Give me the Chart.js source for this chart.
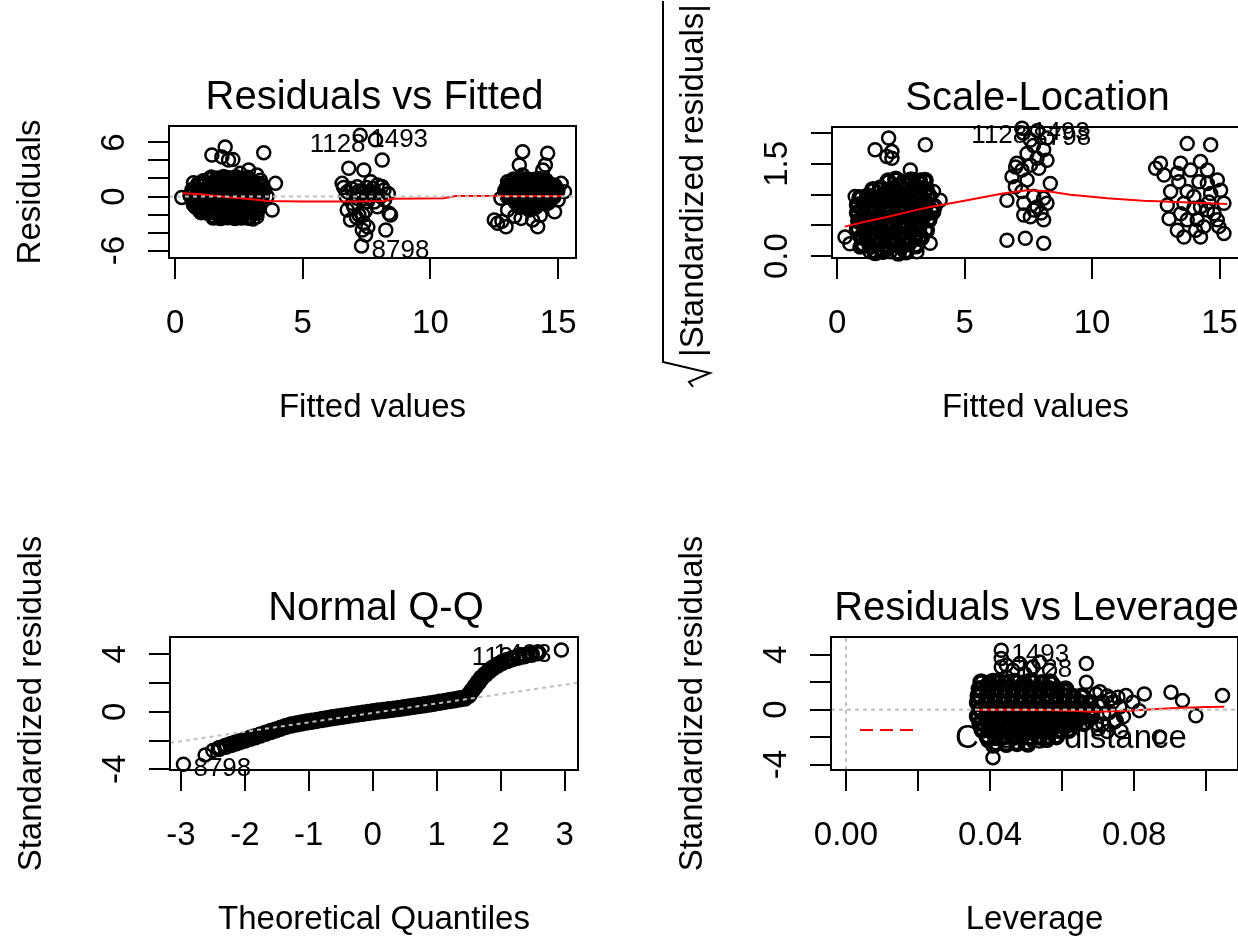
<!DOCTYPE html>
<html>
<head>
<meta charset="utf-8">
<title>lm diagnostics</title>
<script src="https://cdn.jsdelivr.net/npm/chart.js@4.4.1/dist/chart.umd.min.js"></script>
<style>
  html, body { margin: 0; padding: 0; background: #fff; }
  body { width: 1238px; height: 936px; overflow: hidden; position: relative; }
  canvas { position: absolute; }
</style>
</head>
<body>
<canvas id="rvf" width="620" height="468" style="left:0;top:0"></canvas>
<canvas id="sl" width="640" height="468" style="left:620px;top:0"></canvas>
<canvas id="qq" width="620" height="468" style="left:0;top:468px"></canvas>
<canvas id="rvl" width="640" height="468" style="left:620px;top:468px"></canvas>
<script>
// ---- Residuals vs Fitted ----
// scattered observations
const rvfFitted = [
  0.26,0.72,1.44,1.96,1.83,2.09,2.26,3.47,2.55,2.88,3.2,3.93,3.8,2.36,3.2,0.72,3.6,3.34,1.1,3.05,
  7.25,7.85,8.11,6.8,7.39,6.54,7.13,7.66,7.92,8.18,6.74,7.33,7.79,8.05,6.94,7.53,7.92,8.38,6.74,7.2,
  6.87,7.39,7.33,7.46,7.3,8.25,7.13,7.66,6.9,7.0,7.5,7.6,7.75,8.1,8.2,7.0,7.45,7.8,6.7,7.2,
  8.35,7.1,7.55,7.35,8.44,6.6,
  13.61,14.59,13.48,14.4,13.61,13.02,14.2,15.12,14.79,12.96,13.29,15.25,12.76,13.02,12.5,12.63,12.96,13.55,14.0,14.2,
  13.87,14.86,15.0,14.46,12.8,13.3,14.5,14.3
];
const rvfResid = [
  -0.1,1.54,4.6,5.5,4.4,4.06,4.1,4.87,2.57,2.94,2.4,1.46,-1.5,-2.43,-2.24,-0.94,0.0,1.8,1.75,-2.5,
  6.8,6.3,4.06,3.13,2.94,1.46,1.09,1.65,1.28,0.72,0.53,0.35,0.17,0.0,-0.76,-0.57,-1.13,-1.87,-1.5,-2.06,
  -2.6,-2.98,-3.72,-4.28,-5.5,-3.72,-0.2,0.53,0.9,0.2,1.0,-0.1,0.9,1.1,-0.4,-1.2,-1.6,-0.6,0.0,0.6,
  0.3,-2.3,-3.4,-2.0,-2.06,1.0,
  4.98,4.8,3.5,2.94,2.39,1.65,2.0,1.46,1.28,0.91,0.72,0.54,-0.2,-1.5,-2.6,-2.98,-3.35,-2.43,-2.6,-3.35,
  -1.5,-1.69,-0.39,-0.76,-2.75,-2.2,3.5,-2.1
];
// densely overplotted observations
const rvfFittedCore = [
  1.42,1.66,1.9,2.13,2.38,2.61,2.85,
  0.92,1.15,1.39,1.63,1.87,2.1,2.35,2.58,2.83,3.07,3.3,
  0.7,0.95,1.2,1.45,1.7,1.95,2.2,2.45,2.7,2.95,3.2,3.45,
  0.62,0.86,1.1,1.35,1.6,1.85,2.1,2.35,2.6,2.85,3.1,3.38,
  0.72,0.96,1.2,1.44,1.68,1.92,2.16,2.4,2.64,2.88,3.12,3.36,
  0.82,1.06,1.3,1.54,1.78,2.02,2.26,2.5,2.74,2.98,3.25,
  1.02,1.26,1.5,1.74,1.98,2.22,2.46,2.7,2.94,3.18,
  1.5,1.78,2.05,2.32,2.6,2.88,
  13.25,13.5,13.75,14.0,14.25,14.5,
  13.05,13.3,13.55,13.8,14.05,14.3,14.55,14.85,
  12.95,13.2,13.45,13.7,13.95,14.2,14.45,14.7,14.95,
  13.05,13.3,13.55,13.8,14.05,14.3,14.55,14.8,
  13.35,13.6,13.85,14.1,14.35,14.6,
  13.5,13.8,14.1
];
const rvfResidCore = [
  2.05,1.95,2.1,1.98,2.08,1.92,2.02,
  1.35,1.45,1.38,1.48,1.36,1.44,1.4,1.47,1.33,1.42,1.36,
  0.72,0.65,0.78,0.68,0.74,0.64,0.76,0.7,0.66,0.75,0.69,0.73,
  0.12,0.05,0.16,0.08,0.14,0.02,0.11,0.06,0.15,0.04,0.12,0.07,
  -0.48,-0.55,-0.45,-0.52,-0.46,-0.56,-0.49,-0.53,-0.44,-0.5,-0.55,-0.47,
  -1.08,-1.15,-1.05,-1.12,-1.06,-1.14,-1.09,-1.16,-1.04,-1.11,-1.07,
  -1.68,-1.74,-1.66,-1.72,-1.7,-1.76,-1.67,-1.73,-1.69,-1.75,
  -2.28,-2.33,-2.25,-2.31,-2.27,-2.3,
  1.82,1.75,1.85,1.78,1.84,1.76,
  1.22,1.15,1.25,1.18,1.24,1.16,1.21,1.14,
  0.62,0.55,0.65,0.58,0.63,0.56,0.64,0.57,0.61,
  0.02,-0.05,0.05,-0.03,0.04,-0.04,0.03,-0.02,
  -0.58,-0.64,-0.56,-0.62,-0.57,-0.63,
  -1.1,-1.05,-1.12
];
const rvfSmoothX = [0.3, 1.0, 2.0, 3.0, 3.6, 5.0, 7.0, 8.2, 8.5, 10.5, 11.0, 13.0, 15.2];
const rvfSmoothY = [0.35, 0.25, -0.05, -0.3, -0.5, -0.55, -0.55, -0.5, -0.25, -0.2, 0.05, 0.05, 0.05];
const rvfXTicks = [0, 5, 10, 15];
const rvfXLabels = ['0', '5', '10', '15'];
const rvfYTicks = [-6, -4, -2, 0, 2, 4, 6];
const rvfYLabels = ['-6', '', '', '0', '', '', '6'];

// ---- Scale-Location ----
const slFitted = [
  2.02,1.49,2.15,2.15,3.46,2.87,3.26,0.71,3.78,4.04,0.31,3.65,3.13,2.08,0.9,1.3,1.95,0.5,
  7.25,7.85,7.3,7.45,8.1,7.84,7.58,8.23,7.25,6.86,7.45,7.05,8.36,7.25,6.66,7.71,8.1,7.32,7.84,8.23,
  7.32,7.71,8.1,7.58,6.66,7.38,8.1,6.99,7.91,7.58,8.23,7.7,7.0,8.0,
  13.73,14.65,12.68,12.49,13.47,13.86,14.25,14.52,12.82,13.4,14.19,13.08,13.73,15.04,14.65,15.17,12.95,13.6,14.25,14.78,
  13.02,13.73,14.38,14.91,13.34,13.6,14.25,15.17,14.12,14.52,13.99,13.34,14.91,14.52,13.99,13.47,14.58,14.97,14.06
];
const slSqrtStd = [
  1.92,1.73,1.70,1.59,1.81,1.40,1.24,0.97,1.05,0.91,0.31,0.21,0.07,0.07,0.15,0.07,1.62,0.2,
  2.08,2.04,2.0,1.67,1.73,1.59,1.48,1.56,1.40,1.29,1.24,1.51,1.18,1.05,0.91,0.97,0.94,0.86,0.8,0.86,
  0.67,0.75,0.59,0.64,0.26,0.29,0.21,1.13,1.43,1.89,1.92,1.8,1.45,0.7,
  1.83,1.81,1.51,1.43,1.51,1.40,1.54,1.40,1.32,1.21,1.21,1.05,1.05,1.07,1.02,0.86,0.83,0.86,0.80,0.69,
  0.61,0.59,0.48,0.59,0.42,0.31,0.31,0.37,0.59,0.75,0.97,1.35,1.24,1.18,0.78,0.69,0.88,0.48,0.42
];
const slFittedCore = [
  2.0,2.3,2.6,2.9,3.2,3.45,
  1.4,1.7,2.0,2.3,2.6,2.9,3.2,3.5,
  0.9,1.2,1.5,1.8,2.1,2.4,2.7,3.0,3.3,3.6,
  0.8,1.1,1.4,1.7,2.0,2.3,2.6,2.9,3.2,3.5,3.8,
  0.8,1.05,1.35,1.65,1.95,2.25,2.55,2.85,3.15,3.45,3.75,
  0.85,1.15,1.45,1.75,2.05,2.35,2.65,2.95,3.25,3.6,
  0.8,1.1,1.4,1.7,2.0,2.3,2.6,2.9,3.2,3.5,
  0.95,1.25,1.55,1.85,2.15,2.45,2.75,3.05,3.3,
  1.0,1.3,1.6,1.9,2.2,2.5,2.8,3.1,
  1.5,1.8,2.4,2.7
];
const slSqrtStdCore = [
  1.22,1.25,1.2,1.24,1.21,1.23,
  1.08,1.11,1.07,1.1,1.09,1.06,1.11,1.08,
  0.95,0.98,0.94,0.97,0.96,0.99,0.94,0.97,0.95,0.98,
  0.83,0.85,0.81,0.84,0.82,0.86,0.8,0.84,0.82,0.85,0.81,
  0.7,0.68,0.72,0.69,0.71,0.67,0.73,0.69,0.71,0.68,0.72,
  0.57,0.59,0.55,0.58,0.56,0.6,0.55,0.58,0.56,0.59,
  0.44,0.42,0.46,0.43,0.45,0.41,0.46,0.43,0.45,0.42,
  0.31,0.33,0.29,0.32,0.3,0.34,0.29,0.32,0.3,
  0.18,0.16,0.2,0.17,0.19,0.15,0.2,0.17,
  0.06,0.08,0.05,0.07
];
const slSmoothX = [0.3, 1.0, 2.0, 3.0, 3.65, 5.1, 6.5, 7.45, 8.2, 9.15, 10.6, 12.0, 14.1, 15.3];
const slSmoothY = [0.48, 0.55, 0.64, 0.74, 0.8, 0.91, 1.02, 1.07, 1.06, 1.0, 0.94, 0.9, 0.87, 0.85];
const slXTicks = [0, 5, 10, 15];
const slXLabels = ['0', '5', '10', '15'];
const slYTicks = [0, 0.5, 1, 1.5, 2];
const slYLabels = ['0.0', '', '', '1.5', ''];

// ---- Normal Q-Q ----
const qqTheo = [-2.96, -2.62, -2.5, 2.95];
const qqStd = [-3.65, -3.0, -2.7, 4.3];
const qqTheoCore = [
  -2.4,-2.3,-2.22,-2.15,
  -2.08,-2.0,-1.92,-1.84,-1.76,-1.68,-1.6,-1.52,-1.44,-1.36,-1.28,-1.2,-1.12,-1.04,-0.96,-0.88,-0.8,-0.72,-0.64,-0.56,
  -0.48,-0.4,-0.32,-0.24,-0.16,-0.08,0.0,0.08,0.16,0.24,0.32,0.4,0.48,0.56,0.64,0.72,0.8,0.88,0.96,1.04,
  1.12,1.2,1.28,1.36,1.44,
  1.5,1.55,1.6,1.65,1.7,1.76,1.82,1.88,1.95,2.02,2.1,2.18,2.27,2.37,2.48,2.58
];
const qqStdCore = [
  -2.55,-2.4,-2.28,-2.18,
  -2.08,-1.96,-1.85,-1.74,-1.62,-1.5,-1.38,-1.26,-1.14,-1.02,-0.92,-0.85,-0.78,-0.72,-0.66,-0.6,-0.54,-0.48,-0.42,-0.37,
  -0.31,-0.26,-0.2,-0.15,-0.1,-0.05,0.0,0.05,0.09,0.14,0.18,0.23,0.28,0.33,0.38,0.43,0.48,0.54,0.6,0.66,
  0.72,0.78,0.84,0.9,0.96,
  1.15,1.45,1.75,2.05,2.35,2.6,2.85,3.05,3.25,3.42,3.56,3.68,3.8,3.9,4.0,4.1
];
const qqLineX = [-3.17, 3.21];
const qqLineY = [-2.16, 2.02];
const qqXTicks = [-3, -2, -1, 0, 1, 2, 3];
const qqXLabels = ['-3', '-2', '-1', '0', '1', '2', '3'];
const qqYTicks = [-4, -2, 0, 2, 4];
const qqYLabels = ['-4', '', '0', '', '4'];

// ---- Residuals vs Leverage ----
const rvlLev = [
  0.0667,0.0667,0.0694,0.0602,0.0777,0.0828,0.0902,0.0934,0.0971,0.1045,0.0814,0.074,0.0796,0.075,0.0763,0.0731,0.0713,
  0.0408,0.0408,0.0537,0.0426,0.087,0.0712,0.0725,0.0685,0.07,
  0.0431,0.0431,0.0431,0.0445,0.0482,0.0496,0.0519,0.0537,0.0468,0.051,0.0574,0.0408,0.039,0.0463,0.0565,0.0445,
  0.07,0.0715,0.0735,0.0745,0.0705,0.076,0.0695,0.0725,0.0755,0.077
];
const rvlStd = [
  3.36,2.0,1.15,1.4,1.03,1.15,1.27,0.66,-0.44,1.03,-0.07,0.54,0.54,-0.8,-1.54,-0.2,-1.05,
  -3.5,-2.65,-2.28,-1.54,-1.99,0.6,1.0,-0.5,-1.4,
  4.34,3.73,3.11,2.38,3.36,2.62,3.11,3.48,2.13,2.13,1.89,2.13,1.76,2.87,2.87,3.25,
  0.3,-0.3,0.8,-0.9,1.3,0.2,-1.0,-1.6,0.9,-0.5
];
const rvlLevCore = [
  0.0375,0.0399,0.0423,0.0447,0.0471,0.0495,0.0519,0.0543,0.0567,
  0.037,0.0394,0.0418,0.0442,0.0466,0.049,0.0514,0.0538,0.0562,0.0586,0.061,
  0.0367,0.0391,0.0415,0.0439,0.0463,0.0487,0.0511,0.0535,0.0559,0.0583,0.0607,0.0631,0.0655,
  0.0365,0.0389,0.0413,0.0437,0.0461,0.0485,0.0509,0.0533,0.0557,0.0581,0.0605,0.0629,0.0653,0.0677,
  0.0372,0.0396,0.042,0.0444,0.0468,0.0492,0.0516,0.054,0.0564,0.0588,0.0612,0.0636,0.066,0.0684,
  0.0365,0.0389,0.0413,0.0437,0.0461,0.0485,0.0509,0.0533,0.0557,0.0581,0.0605,0.0629,0.0653,0.0677,
  0.0372,0.0396,0.042,0.0444,0.0468,0.0492,0.0516,0.054,0.0564,0.0588,0.0612,0.0636,0.066,
  0.0378,0.0402,0.0426,0.045,0.0474,0.0498,0.0522,0.0546,0.057,0.0594,0.0618,
  0.0392,0.0416,0.044,0.0464,0.0488,0.0512,0.0536,0.056,0.0584,
  0.0415,0.0445,0.0475,0.0505
];
const rvlStdCore = [
  2.02,1.96,2.05,1.98,2.04,1.95,2.03,1.97,2.01,
  1.52,1.46,1.55,1.48,1.53,1.45,1.51,1.47,1.54,1.49,1.5,
  1.02,0.96,1.05,0.98,1.03,0.95,1.01,0.97,1.04,0.99,1.02,0.96,1.0,
  0.52,0.47,0.55,0.48,0.53,0.46,0.51,0.49,0.54,0.47,0.52,0.48,0.5,0.53,
  0.02,-0.03,0.05,-0.02,0.03,-0.04,0.01,-0.01,0.04,-0.03,0.02,-0.02,0.03,0.0,
  -0.48,-0.53,-0.46,-0.52,-0.47,-0.54,-0.49,-0.51,-0.46,-0.53,-0.48,-0.52,-0.5,-0.47,
  -0.98,-1.03,-0.96,-1.02,-0.97,-1.04,-0.99,-1.01,-0.96,-1.03,-0.98,-1.02,-1.0,
  -1.48,-1.53,-1.46,-1.52,-1.47,-1.54,-1.49,-1.51,-1.46,-1.53,-1.5,
  -1.98,-2.03,-1.96,-2.02,-1.97,-2.04,-1.99,-2.01,-1.97,
  -2.48,-2.53,-2.46,-2.5
];
const rvlSmoothX = [0.0366, 0.045, 0.055, 0.063, 0.068, 0.075, 0.082, 0.09, 0.1, 0.105];
const rvlSmoothY = [0.0, 0.0, -0.02, -0.08, -0.15, -0.12, -0.02, 0.1, 0.2, 0.22];
const rvlXTicks = [0, 0.02, 0.04, 0.06, 0.08, 0.1];
const rvlXLabels = ['0.00', '', '0.04', '', '0.08', ''];
const rvlYTicks = [-4, -2, 0, 2, 4];
const rvlYLabels = ['-4', '', '0', '', '4'];

// labelled observations
const idText = ['1128', '1493', '8798'];
const rvfIdX = [7.85, 7.25, 7.3],  rvfIdY = [6.3, 6.8, -5.5];
const slIdX = [7.85, 7.25, 7.3],   slIdY = [2.04, 2.08, 2.0];
const qqIdX = [2.58, 2.95, -2.96], qqIdY = [4.1, 4.3, -3.65];
const rvlIdX = [0.0445, 0.0431],   rvlIdY = [3.25, 4.34];

const FONT = '"Liberation Sans", Arial, Helvetica, sans-serif';

const pts = (xs, ys) => xs.map((v, i) => ({ x: v, y: ys[i] }));
const ids = (xs, ys, pos) => xs.map((v, i) => ({ x: v, y: ys[i], text: idText[i], pos: pos[i] }));

// draws the R-style frame: box, ticks, labels, titles, id labels, legend
const rFrame = {
  id: 'rFrame',
  afterDraw(chart, args, o) {
    const { ctx, chartArea: a } = chart;
    const sx = chart.scales.x, sy = chart.scales.y;
    const midX = (a.left + a.right) / 2, midY = (a.top + a.bottom) / 2;
    ctx.save();
    ctx.strokeStyle = '#000';
    ctx.fillStyle = '#000';
    ctx.lineWidth = 2;
    ctx.setLineDash([]);
    ctx.strokeRect(a.left, a.top, a.right - a.left, a.bottom - a.top);

    ctx.beginPath();
    o.xTicks.forEach(v => {
      const px = Math.round(sx.getPixelForValue(v));
      ctx.moveTo(px, a.bottom);
      ctx.lineTo(px, a.bottom + 21);
    });
    o.yTicks.forEach(v => {
      const py = Math.round(sy.getPixelForValue(v));
      ctx.moveTo(a.left, py);
      ctx.lineTo(a.left - 21, py);
    });
    ctx.stroke();

    ctx.textAlign = 'center';
    ctx.textBaseline = 'alphabetic';
    ctx.font = '33px ' + FONT;
    o.xTicks.forEach((v, i) => {
      if (o.xLabels[i]) ctx.fillText(o.xLabels[i], sx.getPixelForValue(v), a.bottom + 75);
    });
    o.yTicks.forEach((v, i) => {
      if (!o.yLabels[i]) return;
      ctx.save();
      ctx.translate(a.left - 45, sy.getPixelForValue(v));
      ctx.rotate(-Math.PI / 2);
      ctx.fillText(o.yLabels[i], 0, 0);
      ctx.restore();
    });
    ctx.fillText(o.xTitle, midX, a.bottom + 159);

    ctx.save();
    ctx.translate(a.left - 129, midY);
    ctx.rotate(-Math.PI / 2);
    if (o.sqrtTitle) {
      const w = ctx.measureText(o.yTitle).width;
      const c = 12;
      ctx.fillText(o.yTitle, c, 0);
      ctx.beginPath();
      ctx.moveTo(c - w / 2 - 30, -10);
      ctx.lineTo(c - w / 2 - 25, -14);
      ctx.lineTo(c - w / 2 - 16, 7);
      ctx.lineTo(c - w / 2 - 5, -40);
      ctx.lineTo(c + w / 2 + 3, -40);
      ctx.stroke();
    } else {
      ctx.fillText(o.yTitle, 0, 0);
    }
    ctx.restore();

    ctx.font = '40px ' + FONT;
    ctx.fillText(o.title, midX + 2, a.top - 17);

    ctx.font = '26px ' + FONT;
    ctx.textBaseline = 'middle';
    o.ids.forEach(d => {
      const px = sx.getPixelForValue(d.x), py = sy.getPixelForValue(d.y) + 5;
      ctx.textAlign = d.pos === 2 ? 'right' : 'left';
      ctx.fillText(d.text, px + (d.pos === 2 ? -10 : 10), py);
    });

    if (o.legend) {
      ctx.strokeStyle = '#ff0000';
      ctx.setLineDash([13, 7]);
      ctx.beginPath();
      ctx.moveTo(a.left + 29, a.bottom - 40);
      ctx.lineTo(a.left + 84, a.bottom - 40);
      ctx.stroke();
      ctx.setLineDash([]);
      ctx.font = '33px ' + FONT;
      ctx.textAlign = 'left';
      ctx.textBaseline = 'alphabetic';
      ctx.fillText(o.legend, a.left + 124, a.bottom - 22);
    }
    ctx.restore();
  }
};
Chart.register(rFrame);

// open circles; overplotted cores get a heavier stroke so they read as solid ink
function pointSet(data, dense) {
  return {
    data, showLine: false, order: 3, clip: 10,
    pointStyle: 'circle', pointRadius: 6.5,
    pointBorderWidth: dense ? 4.5 : 2.5,
    pointBorderColor: '#000', pointBackgroundColor: 'rgba(0,0,0,0)'
  };
}
function lineSet(data, color, dash, order) {
  return {
    data, showLine: true, order, pointRadius: 0, fill: false, tension: 0,
    borderColor: color, borderWidth: 2, borderDash: dash
  };
}

function makeChart(id, datasets, pad, xr, yr, frame) {
  return new Chart(document.getElementById(id), {
    type: 'scatter',
    data: { datasets },
    options: {
      responsive: false,
      animation: false,
      events: [],
      layout: { padding: pad },
      elements: { point: { radius: 6.5, borderWidth: 2.5 } },
      plugins: { legend: { display: false }, tooltip: { enabled: false }, rFrame: frame },
      scales: {
        x: { type: 'linear', min: xr[0], max: xr[1], display: false },
        y: { type: 'linear', min: yr[0], max: yr[1], display: false }
      }
    }
  });
}

makeChart('rvf', [
  lineSet(pts([-0.24, 15.7], [0, 0]), '#bebebe', [4, 4], 0),
  lineSet(pts(rvfSmoothX, rvfSmoothY), '#ff0000', [], 1),
  pointSet(pts(rvfFitted, rvfResid), false),
  pointSet(pts(rvfFittedCore, rvfResidCore), true)
], { left: 169, top: 126, right: 44, bottom: 210 }, [-0.24, 15.7], [-6.83, 7.83], {
  title: 'Residuals vs Fitted', xTitle: 'Fitted values', yTitle: 'Residuals',
  xTicks: rvfXTicks, xLabels: rvfXLabels, yTicks: rvfYTicks, yLabels: rvfYLabels,
  ids: ids(rvfIdX, rvfIdY, [2, 4, 4])
});

makeChart('sl', [
  lineSet(pts(slSmoothX, slSmoothY), '#ff0000', [], 1),
  pointSet(pts(slFitted, slSqrtStd), false),
  pointSet(pts(slFittedCore, slSqrtStdCore), true)
], { left: 212, top: 127, right: 21, bottom: 210 }, [-0.2, 15.76], [-0.03, 2.1], {
  title: 'Scale-Location', xTitle: 'Fitted values', yTitle: '|Standardized residuals|', sqrtTitle: true,
  xTicks: slXTicks, xLabels: slXLabels, yTicks: slYTicks, yLabels: slYLabels,
  ids: ids(slIdX, slIdY, [2, 4, 4])
});

makeChart('qq', [
  lineSet(pts(qqLineX, qqLineY), '#bebebe', [4, 4], 0),
  pointSet(pts(qqTheo, qqStd), false),
  pointSet(pts(qqTheoCore, qqStdCore), true)
], { left: 170, top: 169, right: 42, bottom: 166 }, [-3.17, 3.21], [-4.05, 5.2], {
  title: 'Normal Q-Q', xTitle: 'Theoretical Quantiles', yTitle: 'Standardized residuals',
  xTicks: qqXTicks, xLabels: qqXLabels, yTicks: qqYTicks, yLabels: qqYLabels,
  ids: ids(qqIdX, qqIdY, [2, 2, 4])
});

makeChart('rvl', [
  lineSet(pts([-0.00415, 0.1088], [0, 0]), '#bebebe', [4, 4], 0),
  lineSet(pts([0, 0], [-4.4, 5.3]), '#bebebe', [4, 4], 0),
  lineSet(pts(rvlSmoothX, rvlSmoothY), '#ff0000', [], 1),
  pointSet(pts(rvlLev, rvlStd), false),
  pointSet(pts(rvlLevCore, rvlStdCore), true)
], { left: 211, top: 169, right: 22, bottom: 166 }, [-0.00415, 0.1088], [-4.4, 5.3], {
  title: 'Residuals vs Leverage', xTitle: 'Leverage', yTitle: 'Standardized residuals',
  xTicks: rvlXTicks, xLabels: rvlXLabels, yTicks: rvlYTicks, yLabels: rvlYLabels,
  ids: ids(rvlIdX, rvlIdY, [4, 4]),
  legend: "Cook's distance"
});
</script>
</body>
</html>
